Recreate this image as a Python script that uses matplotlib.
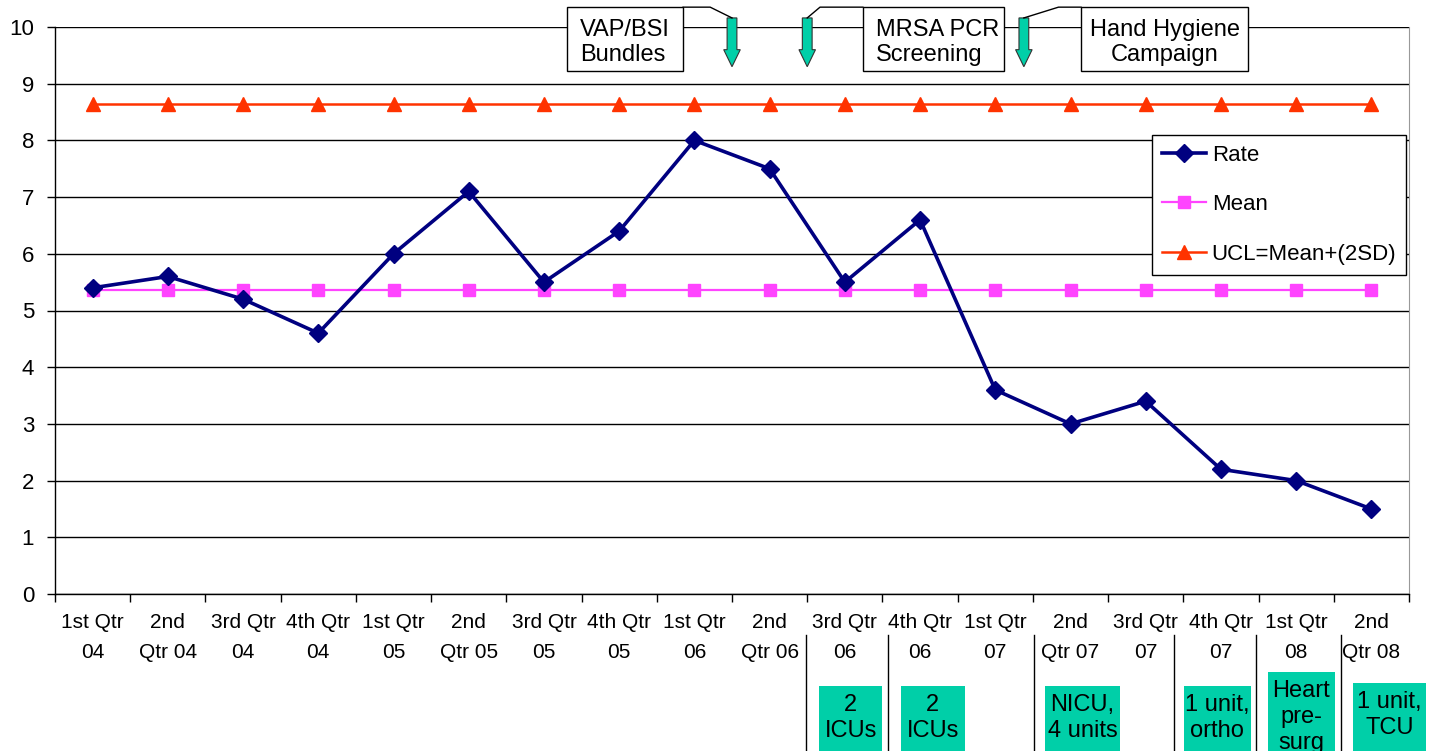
import matplotlib
matplotlib.use("Agg")
import matplotlib.pyplot as plt
from matplotlib.patches import Rectangle, FancyArrow
import numpy as np

plt.rcParams["font.family"] = ["Liberation Sans", "DejaVu Sans"]

quarters = [
    "1st Qtr\n04", "2nd\nQtr 04", "3rd Qtr\n04", "4th Qtr\n04",
    "1st Qtr\n05", "2nd\nQtr 05", "3rd Qtr\n05", "4th Qtr\n05",
    "1st Qtr\n06", "2nd\nQtr 06", "3rd Qtr\n06", "4th Qtr\n06",
    "1st Qtr\n07", "2nd\nQtr 07", "3rd Qtr\n07", "4th Qtr\n07",
    "1st Qtr\n08", "2nd\nQtr 08",
]
rate = [5.4, 5.6, 5.2, 4.6, 6.0, 7.1, 5.5, 6.4, 8.0, 7.5,
        5.5, 6.6, 3.6, 3.0, 3.4, 2.2, 2.0, 1.5]
mean_value = 5.36
ucl_value = 8.64

# interventions shown as call-outs above the plot
intervention_labels = ["VAP/BSI\nBundles", "MRSA PCR\nScreening", "Hand Hygiene\nCampaign"]
intervention_x = [8.5, 9.5, 12.38]

# units rolled out, shown as green tags under the axis
rollout_labels = ["2\nICUs", "2\nICUs", "NICU,\n4 units", "1 unit,\northo",
                  "Heart\npre-\nsurg", "1 unit,\nTCU"]
rollout_x = [10.08, 11.17, 13.16, 14.95, 16.07, 17.24]
divider_x = [9.49, 10.57, 12.52, 14.38, 15.46, 16.59]

x = np.arange(len(quarters))

fig = plt.figure(figsize=(14.29, 7.51), dpi=100)
ax = fig.add_axes([55 / 1429, 157 / 751, 1354 / 1429, 567 / 751])

ax.plot(x, rate, color="#000080", lw=2.6, marker="D", ms=9,
        markeredgecolor="#000080", label="Rate", zorder=5)
ax.plot(x, [mean_value] * len(x), color="#FF44FF", lw=1.6, marker="s", ms=8,
        markeredgecolor="#FF44FF", label="Mean", zorder=4)
ax.plot(x, [ucl_value] * len(x), color="#FF3300", lw=1.8, marker="^", ms=10,
        markeredgecolor="#FF3300", label="UCL=Mean+(2SD)", zorder=4)

ax.set_xlim(-0.5, len(x) - 0.5)
ax.set_ylim(0, 10)
ax.set_yticks(range(0, 11))
ax.yaxis.grid(True, color="black", lw=1)
ax.set_axisbelow(True)

ax.set_xticks(x)
ax.set_xticklabels(quarters, fontsize=15)
ax.set_xticks(np.arange(-0.5, len(x)), minor=True)
ax.tick_params(axis="x", which="major", length=0, pad=14)
ax.tick_params(axis="x", which="minor", length=6, width=1, direction="out")
ax.tick_params(axis="y", labelsize=16, length=6, width=1, pad=9)
for lab in ax.get_xticklabels():
    lab.set_linespacing(1.7)

ax.spines["top"].set_visible(False)
ax.spines["right"].set_color("#999999")
ax.spines["left"].set_linewidth(1)
ax.spines["bottom"].set_linewidth(1)

leg = ax.legend(loc="upper right", bbox_to_anchor=(0.998, 0.81), fontsize=16,
                frameon=True, fancybox=False, edgecolor="black",
                framealpha=1, handlelength=2.0, labelspacing=1.28,
                borderpad=0.45, borderaxespad=0, handletextpad=0.25)
leg.get_frame().set_linewidth(1)

green = "#00CFA8"

# call-out boxes and arrows
box_specs = [
    (6.31, 7.85, "left"),
    (10.24, 12.11, "left"),
    (13.14, 15.36, "center"),
]
for label, ax_x, (bx0, bx1, ha) in zip(intervention_labels, intervention_x, box_specs):
    ax.add_patch(Rectangle((bx0, 9.22), bx1 - bx0, 1.13, facecolor="white",
                           edgecolor="black", lw=1, clip_on=False, zorder=6))
    tx = bx0 + 0.17 if ha == "left" else (bx0 + bx1) / 2
    ax.text(tx, 9.73, label, ha=ha, va="center", fontsize=17,
            linespacing=1.2, zorder=7, clip_on=False)
    ax.add_patch(FancyArrow(ax_x, 10.16, 0, -0.86, width=0.13, head_width=0.22,
                            head_length=0.3, length_includes_head=True,
                            facecolor=green, edgecolor="#333333", lw=0.8,
                            clip_on=False, zorder=6))

leaders = [
    ([7.85, 8.21, 8.5], [10.35, 10.35, 10.16]),
    ([10.24, 9.67, 9.5], [10.35, 10.35, 10.16]),
    ([13.14, 12.84, 12.38], [10.35, 10.35, 10.16]),
]
for lx, ly in leaders:
    ax.plot(lx, ly, color="black", lw=1, clip_on=False, zorder=6)

# dividers and rollout tags below the axis
for dx in divider_x:
    ax.plot([dx, dx], [-0.72, -2.8], color="black", lw=1, clip_on=False)

tag_widths = [0.84, 0.85, 1.0, 0.89, 0.89, 0.96]
tag_tops = [-1.62, -1.62, -1.62, -1.62, -1.38, -1.57]
for label, cx, w, top in zip(rollout_labels, rollout_x, tag_widths, tag_tops):
    ax.add_patch(Rectangle((cx - w / 2, -3.0), w, top + 3.0, facecolor=green,
                           edgecolor="none", clip_on=False, zorder=3))
    ax.text(cx, top - 0.14, label, ha="center", va="top", fontsize=17,
            linespacing=1.22, clip_on=False, zorder=4)

fig.savefig("out.png", dpi=100)
